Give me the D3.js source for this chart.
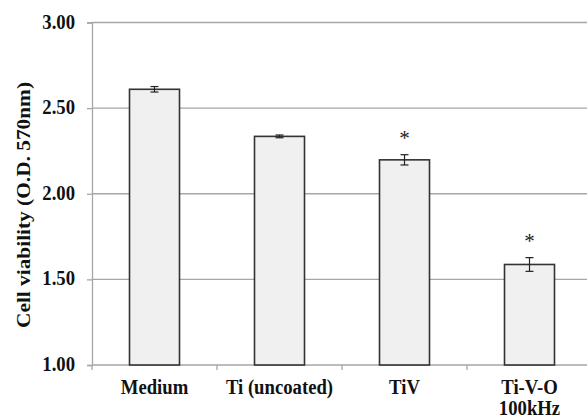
<!DOCTYPE html>
<html>
<head>
<meta charset="utf-8">
<script src="https://cdn.jsdelivr.net/npm/d3@7"></script>
<style>
  body { margin: 0; background: #fff; }
</style>
</head>
<body>
<div id="chart"></div>
<script>
// DATA ------------------------------
const categories = ["Medium", "Ti (uncoated)", "TiV", "Ti-V-O\n100kHz"];
const values = [2.61, 2.335, 2.198, 1.587];
const errors = [0.016, 0.008, 0.03, 0.04];
const significant = [false, false, true, true];
const yTicks = [1.0, 1.5, 2.0, 2.5, 3.0];

const serif = "'Liberation Serif'";

// CHART INIT ------------------------------
const margin = ({top: 22.5, right: -5, bottom: 55, left: 92});
const width = 587 - margin.left - margin.right;
const height = 420 - margin.top - margin.bottom;

let svg = d3.select('#chart').append('svg')
    .attr('width', 587)
    .attr('height', 420)
    .append('g')
    .attr("transform", "translate(" + margin.left + "," + margin.top + ")");

let xScale = d3.scaleBand()
    .domain(categories)
    .range([0, width])
    .paddingInner(0.6)
    .paddingOuter(0.3);

let yScale = d3.scaleLinear().domain([1, 3]).range([height, 0]);

// the source image is a little taller than wide: draw text at a larger size
// and squeeze it back to the width it would have at 18.7px
function anchor(sel, mode, squeeze) {
  sel.each(function() {
    let len = this.getComputedTextLength();
    if (squeeze) {
      len = len * squeeze;
      d3.select(this).attr("textLength", len).attr("lengthAdjust", "spacingAndGlyphs");
    }
    const x = +d3.select(this).attr("x") || 0;
    d3.select(this).attr("x", mode === "end" ? x - len : x - len / 2);
  });
}

// gridlines
svg.selectAll(".grid")
    .data(yTicks.slice(1))
    .enter().append("line")
    .attr("x1", 0).attr("x2", width)
    .attr("y1", d => yScale(d)).attr("y2", d => yScale(d))
    .attr("stroke", "#a6a6a6").attr("stroke-width", 1.3);

// y axis
let yAxis = d3.axisLeft(yScale).tickValues(yTicks).tickFormat("").tickSize(5);
let yAxisGroup = svg.append("g").call(yAxis);
yAxisGroup.select(".domain").attr("stroke", "#a6a6a6").attr("stroke-width", 1.3);
yAxisGroup.selectAll(".tick line").attr("stroke", "#a6a6a6").attr("stroke-width", 1.3);
yAxisGroup.selectAll(".tick text").remove();

svg.selectAll(".ylabel")
    .data(yTicks)
    .enter().append("text")
    .attr("x", -17)
    .attr("y", d => yScale(d) + 6)
    .attr("font-family", serif)
    .attr("font-size", 20)
    .attr("font-weight", "bold")
    .attr("fill", "#111")
    .text(d3.format(".2f"))
    .call(anchor, "end", 18.7 / 20);

// x axis (category boundaries)
let step = xScale.step();
let boundaries = d3.range(categories.length + 1).map(i => i * step);
svg.append("line")
    .attr("x1", 0).attr("x2", width)
    .attr("y1", height).attr("y2", height)
    .attr("stroke", "#a6a6a6").attr("stroke-width", 1.3);
svg.selectAll(".xtick")
    .data(boundaries)
    .enter().append("line")
    .attr("x1", d => d).attr("x2", d => d)
    .attr("y1", height).attr("y2", height + 5)
    .attr("stroke", "#a6a6a6").attr("stroke-width", 1.3);

// bars
let data = categories.map((c, i) => ({cat: c, value: values[i], err: errors[i], sig: significant[i]}));

svg.selectAll(".bar")
    .data(data)
    .enter().append("rect")
    .attr("class", "bar")
    .attr("x", d => xScale(d.cat))
    .attr("y", d => yScale(d.value))
    .attr("width", xScale.bandwidth())
    .attr("height", d => height - yScale(d.value))
    .attr("fill", "#f0f0f0")
    .attr("stroke", "#333")
    .attr("stroke-width", 1.6);

// error bars
let eb = svg.selectAll(".err").data(data).enter().append("g")
    .attr("transform", d => "translate(" + (xScale(d.cat) + xScale.bandwidth() / 2) + ",0)");
eb.append("line")
    .attr("y1", d => yScale(d.value + d.err)).attr("y2", d => yScale(d.value - d.err))
    .attr("stroke", "#222").attr("stroke-width", 1.2);
eb.append("line")
    .attr("x1", -4).attr("x2", 4)
    .attr("y1", d => yScale(d.value + d.err)).attr("y2", d => yScale(d.value + d.err))
    .attr("stroke", "#222").attr("stroke-width", 1.2);
eb.append("line")
    .attr("x1", -4).attr("x2", 4)
    .attr("y1", d => yScale(d.value - d.err)).attr("y2", d => yScale(d.value - d.err))
    .attr("stroke", "#222").attr("stroke-width", 1.2);

// asterisks
eb.filter(d => d.sig).append("text")
    .attr("x", 0)
    .attr("y", d => yScale(d.value + d.err) - 10)
    .attr("font-family", serif)
    .attr("font-size", 21)
    .attr("fill", "#222")
    .text("*")
    .call(anchor, "middle");

// category labels (one text per line)
let labelLines = [];
data.forEach(d => d.cat.split("\n").forEach((line, i) => labelLines.push({cat: d.cat, line: line, i: i})));
svg.selectAll(".xlabel")
    .data(labelLines)
    .enter().append("text")
    .attr("x", d => xScale(d.cat) + xScale.bandwidth() / 2)
    .attr("y", d => height + 29 + d.i * 21)
    .attr("font-family", serif)
    .attr("font-size", 20)
    .attr("font-weight", "bold")
    .attr("fill", "#111")
    .text(d => d.line)
    .call(anchor, "middle", 18.7 / 20);

// y axis title (runs along the stretched axis, so it is longer)
let title = svg.append("g")
    .attr("transform", "translate(" + (30 - margin.left) + "," + (205 - margin.top) + ") rotate(-90)")
    .append("text")
    .attr("x", 0)
    .attr("y", 0)
    .attr("font-family", serif)
    .attr("font-size", 19.5)
    .attr("font-weight", "bold")
    .attr("fill", "#111")
    .text("Cell viability (O.D. 570nm)");
title.call(anchor, "middle", 246 / title.node().getComputedTextLength());
</script>
</body>
</html>
